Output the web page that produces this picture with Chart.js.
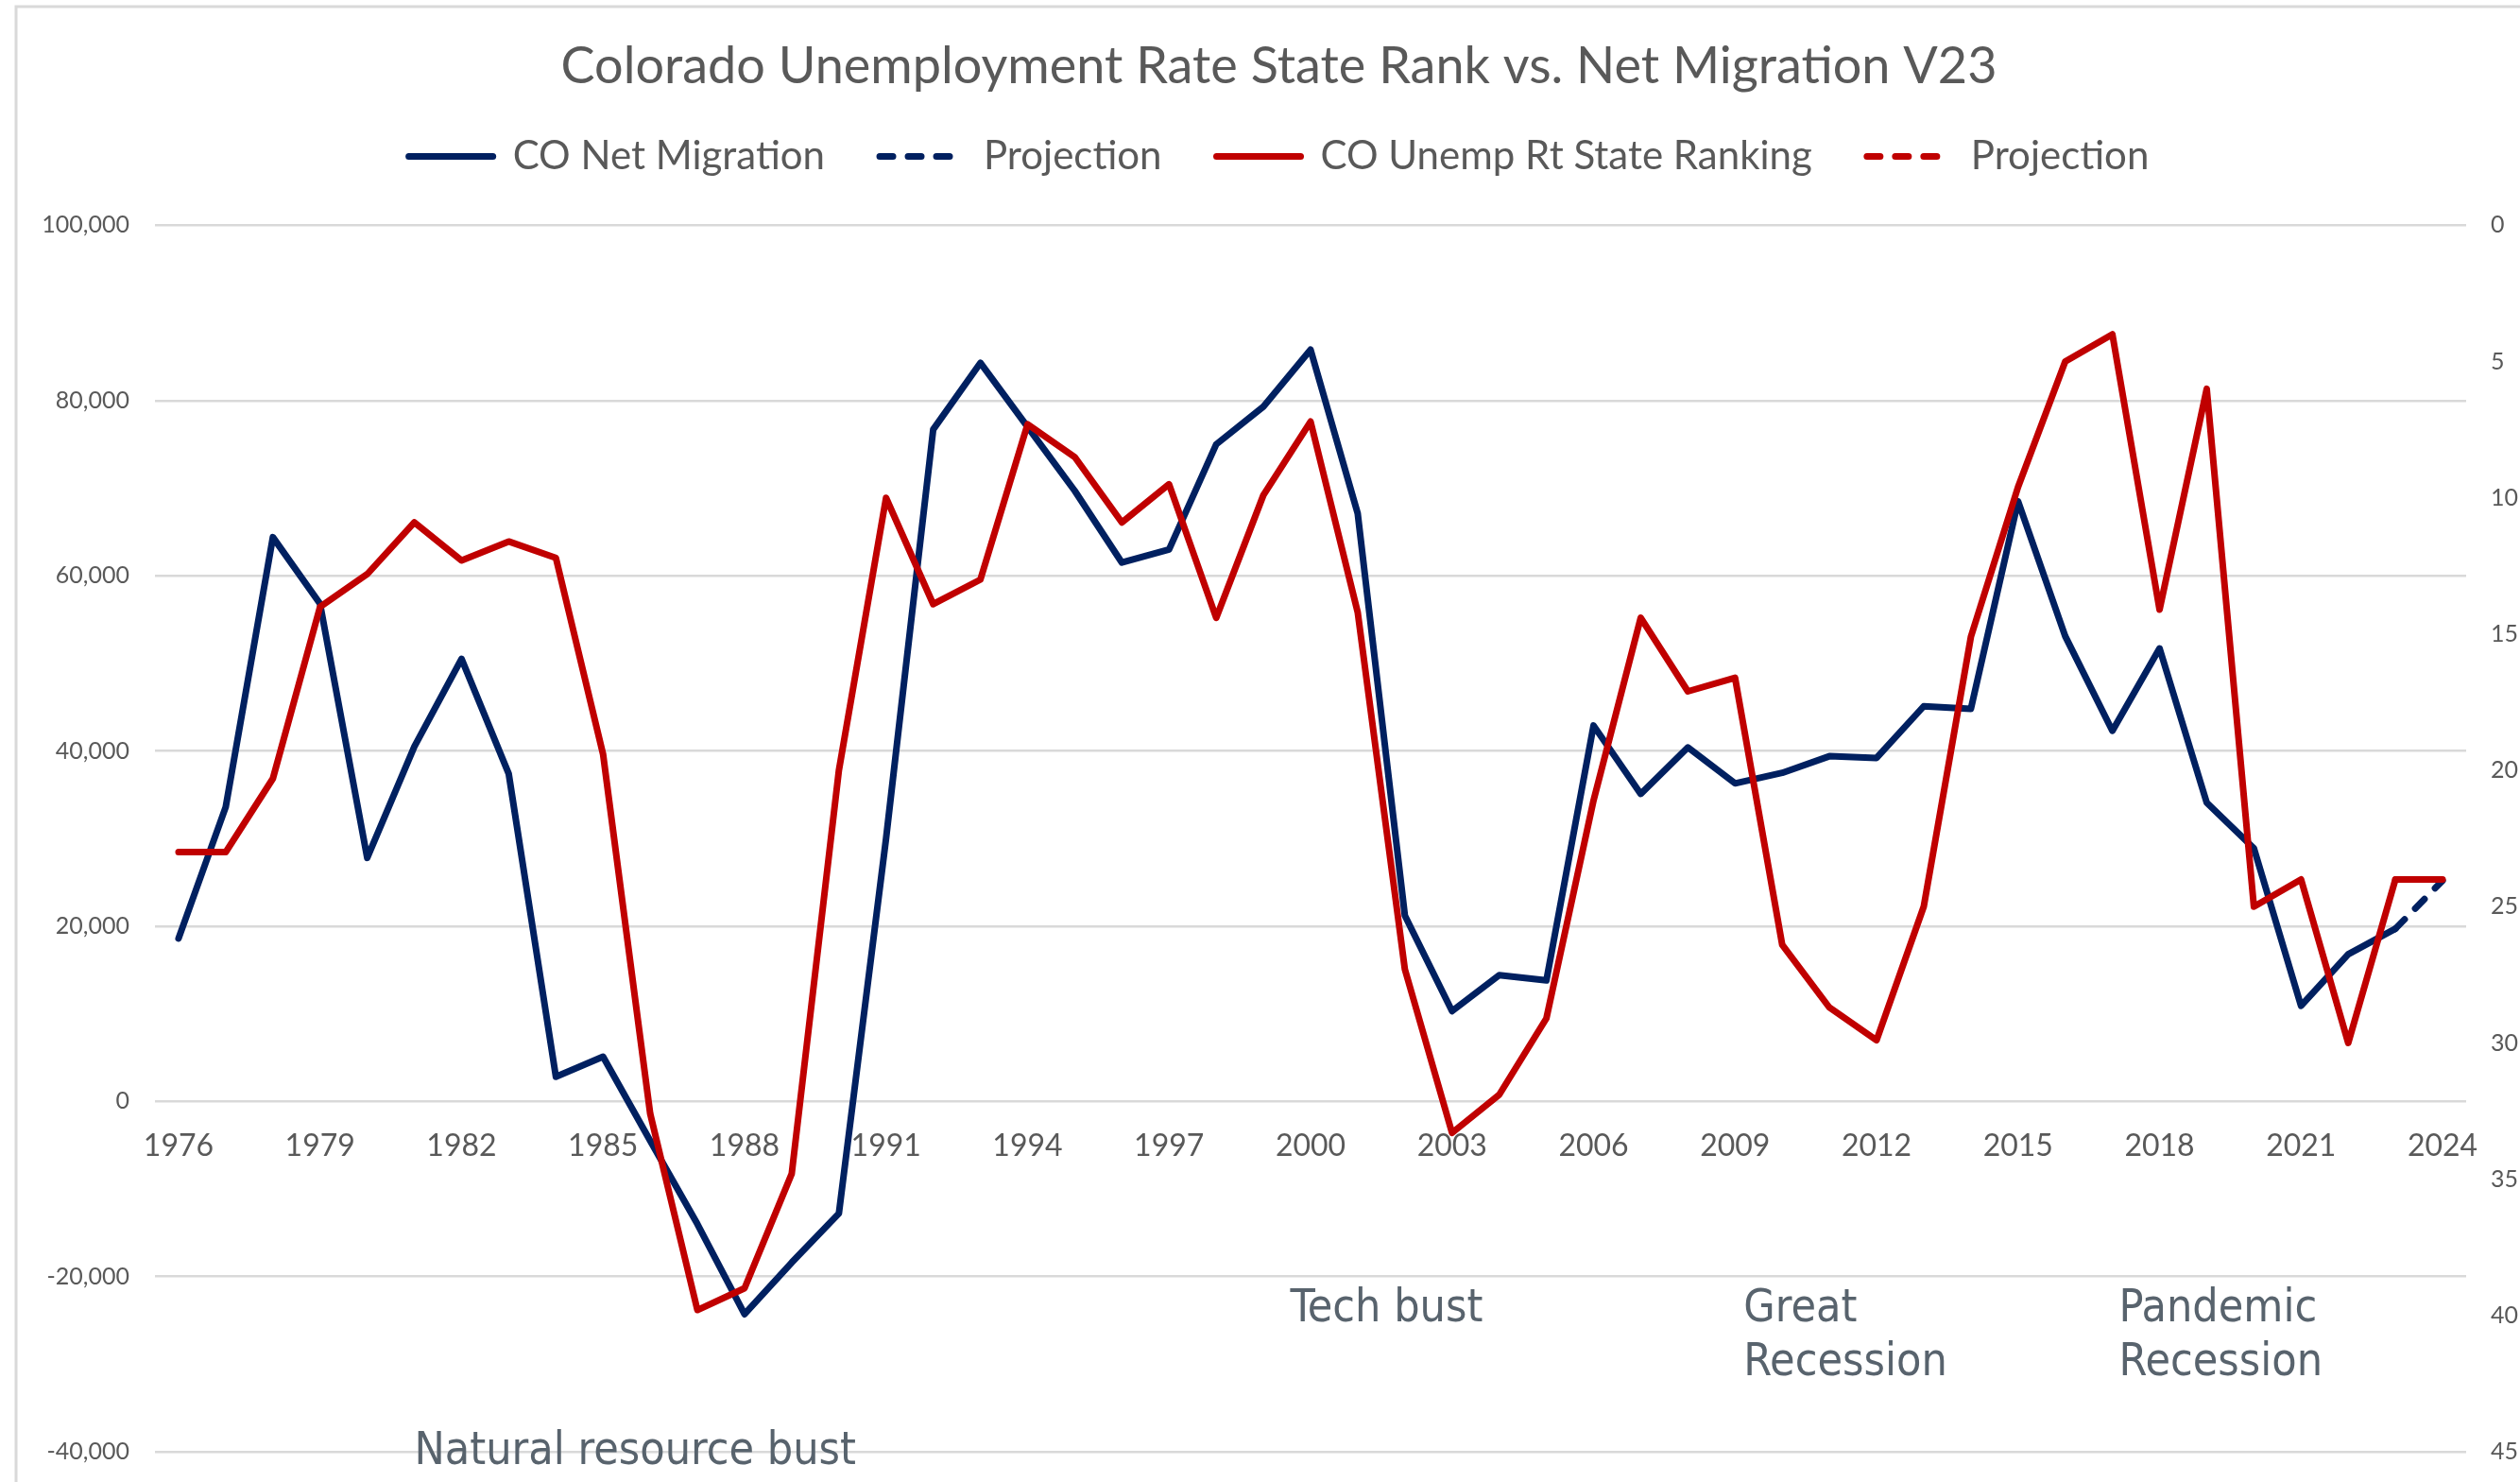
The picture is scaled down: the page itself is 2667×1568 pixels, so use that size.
<!DOCTYPE html>
<html>
<head>
<meta charset="utf-8">
<title>Colorado Unemployment Rate State Rank vs. Net Migration V23</title>
<script src="https://cdn.jsdelivr.net/npm/chart.js@4.4.1/dist/chart.umd.min.js"></script>
<style>
  html, body { margin: 0; padding: 0; background: #ffffff; }
  #wrap { position: relative; width: 2667px; height: 1568px; overflow: hidden; }
</style>
</head>
<body>
<div id="wrap"><canvas id="chart" width="2667" height="1568"></canvas></div>
<script>
// years on the x axis
const years = ['1976', '1977', '1978', '1979', '1980', '1981', '1982', '1983', '1984', '1985',
  '1986', '1987', '1988', '1989', '1990', '1991', '1992', '1993', '1994', '1995',
  '1996', '1997', '1998', '1999', '2000', '2001', '2002', '2003', '2004', '2005',
  '2006', '2007', '2008', '2009', '2010', '2011', '2012', '2013', '2014', '2015',
  '2016', '2017', '2018', '2019', '2020', '2021', '2022', '2023', '2024'];

// CO net migration (left axis)
const netMigration = [18600, 33600, 64400, 56800, 27800, 40500, 50500, 37400, 2800, 5100,
  -4500, -14000, -24300, -18400, -12800, 30000, 76700, 84300, 77000, 69700,
  61500, 63000, 75000, 79300, 85800, 67100, 21200, 10300, 14400, 13800,
  42900, 35100, 40400, 36300, 37500, 39400, 39200, 45100, 44800, 68500,
  53100, 42300, 51700, 34100, 28900, 10900, 16800, 19700, null];

const migrationProjection = [null, null, null, null, null, null, null, null, null, null,
  null, null, null, null, null, null, null, null, null, null,
  null, null, null, null, null, null, null, null, null, null,
  null, null, null, null, null, null, null, null, null, null,
  null, null, null, null, null, null, null, 19700, 25200];

// CO unemployment rate state ranking (right axis, reversed)
const unempRank = [23, 23, 20.3, 14, 12.8, 10.9, 12.3, 11.6, 12.2, 19.4,
  32.6, 39.8, 39, 34.8, 20, 10, 13.9, 13, 7.3, 8.5,
  10.9, 9.5, 14.4, 9.9, 7.2, 14.2, 27.3, 33.3, 31.9, 29.1,
  21.1, 14.4, 17.1, 16.6, 26.4, 28.7, 29.9, 25, 15.1, 9.6,
  5, 4, 14.1, 6, 25, 24, 30, 24, 24];

const rankProjection = [null, null, null, null, null, null, null, null, null, null,
  null, null, null, null, null, null, null, null, null, null,
  null, null, null, null, null, null, null, null, null, null,
  null, null, null, null, null, null, null, null, null, null,
  null, null, null, null, null, null, null, 24, 24];

const eventNotes = ['Natural resource bust', 'Tech bust', 'Great\nRecession', 'Pandemic\nRecession'];

const NAVY = '#002060';
const RED = '#C00000';
const TEXT = '#595959';
const GRID = '#d9d9d9';

// frame around the chart and the recession notes
const frameAndNotes = {
  id: 'frameAndNotes',
  beforeDraw(chart) {
    const ctx = chart.ctx;
    ctx.save();
    ctx.strokeStyle = GRID;
    ctx.lineWidth = 3;
    ctx.beginPath();
    ctx.moveTo(17, chart.height + 5);
    ctx.lineTo(17, 7);
    ctx.lineTo(chart.width + 5, 7);
    ctx.stroke();
    ctx.restore();
  },
  afterDatasetsDraw(chart) {
    const ctx = chart.ctx;
    const xs = chart.scales.x;
    const ys = chart.scales.y;
    // anchor of each note: [category index, left-axis value]
    const anchors = [[5, -39400], [23.57, -23100], [33.18, -23100], [41.14, -23100]];
    ctx.save();
    ctx.fillStyle = '#58636d';
    ctx.font = '48px "DejaVu Sans Condensed", "DejaVu Sans"';
    ctx.textAlign = 'left';
    ctx.textBaseline = 'middle';
    eventNotes.forEach((txt, i) => {
      const x = xs.getPixelForValue(anchors[i][0]);
      const y = ys.getPixelForValue(anchors[i][1]) + 6;
      txt.split('\n').forEach((line, j) => ctx.fillText(line, x, y + j * 57));
    });
    ctx.restore();
  }
};

const lineStyle = {
  borderWidth: 7,
  pointRadius: 0,
  pointHoverRadius: 0,
  tension: 0,
  fill: false,
  borderJoinStyle: 'round',
  borderCapStyle: 'round'
};

// legend entries drawn as short lines, dashed for the projections
function legendLabels(chart) {
  return Chart.defaults.plugins.legend.labels.generateLabels(chart).map(item => {
    const ds = chart.data.datasets[item.datasetIndex];
    item.lineDash = ds.borderDash || [];
    item.lineWidth = ds.borderWidth;
    item.strokeStyle = ds.borderColor;
    item.fillStyle = ds.borderColor;
    item.lineCap = 'round';
    item.pointStyle = 'line';
    return item;
  });
}

function noEdgePadding(scale) {
  scale.paddingTop = 0;
  scale.paddingBottom = 0;
}

function drawChart() {
  const ctx = document.getElementById('chart').getContext('2d');
  new Chart(ctx, {
    type: 'line',
    data: {
      labels: years,
      datasets: [
        { ...lineStyle, label: 'CO Net Migration', data: netMigration, borderColor: NAVY, backgroundColor: NAVY, yAxisID: 'y', order: 2 },
        { ...lineStyle, label: 'Projection', data: migrationProjection, borderColor: NAVY, backgroundColor: NAVY, borderDash: [14, 16], yAxisID: 'y', order: 3 },
        { ...lineStyle, label: 'CO Unemp Rt State Ranking', data: unempRank, borderColor: RED, backgroundColor: RED, yAxisID: 'y1', order: 0 },
        { ...lineStyle, label: 'Projection', data: rankProjection, borderColor: RED, backgroundColor: RED, borderDash: [14, 16], yAxisID: 'y1', order: 1 }
      ]
    },
    options: {
      responsive: false,
      animation: false,
      events: [],
      layout: { padding: { top: 0, left: 40, right: 0, bottom: 32 } },
      plugins: {
        tooltip: { enabled: false },
        title: {
          display: true,
          text: 'Colorado Unemployment Rate State Rank vs. Net Migration V23',
          color: TEXT,
          font: { family: 'Lato', size: 54, weight: 'normal', lineHeight: 0.6 },
          padding: { top: 54, bottom: 0 }
        },
        legend: {
          display: true,
          position: 'top',
          labels: {
            color: TEXT,
            font: { family: 'Lato', size: 42 },
            usePointStyle: true,
            pointStyle: 'line',
            pointStyleWidth: 89,
            padding: 58,
            generateLabels: legendLabels,
            sort: (a, b) => a.datasetIndex - b.datasetIndex
          }
        },
        // spacer between the legend and the plot
        subtitle: {
          display: true,
          text: '',
          weight: 500,
          font: { size: 1, lineHeight: 1 },
          padding: { top: 41, bottom: 0 }
        }
      },
      scales: {
        x: {
          type: 'category',
          position: { y: 0 },
          offset: true,
          grid: { display: false, drawTicks: false },
          border: { display: false },
          ticks: {
            autoSkip: false,
            maxRotation: 0,
            padding: 28,
            color: TEXT,
            font: { family: 'Lato', size: 32 },
            callback: function (value, index) {
              return index % 3 === 0 ? this.getLabelForValue(value) : '';
            }
          }
        },
        y: {
          position: 'left',
          min: -40000,
          max: 100000,
          grid: { color: GRID, lineWidth: 2.5, drawTicks: false },
          border: { display: false },
          ticks: {
            stepSize: 20000,
            padding: 27,
            color: TEXT,
            font: { family: 'Lato', size: 25 },
            callback: (v) => v.toLocaleString('en-US')
          },
          afterFit: (scale) => { scale.width = 124; noEdgePadding(scale); }
        },
        y1: {
          position: 'right',
          reverse: true,
          min: 0,
          max: 45,
          grid: { display: false, drawTicks: false },
          border: { display: false },
          ticks: {
            stepSize: 5,
            padding: 26,
            color: TEXT,
            font: { family: 'Lato', size: 25 }
          },
          afterFit: (scale) => { scale.width = 57; noEdgePadding(scale); }
        }
      }
    },
    plugins: [frameAndNotes]
  });
}

Promise.all([
  document.fonts.load('54px Lato'),
  document.fonts.load('48px "DejaVu Sans Condensed"'),
  document.fonts.load('48px "DejaVu Sans"')
]).then(drawChart, drawChart);
</script>
</body>
</html>
